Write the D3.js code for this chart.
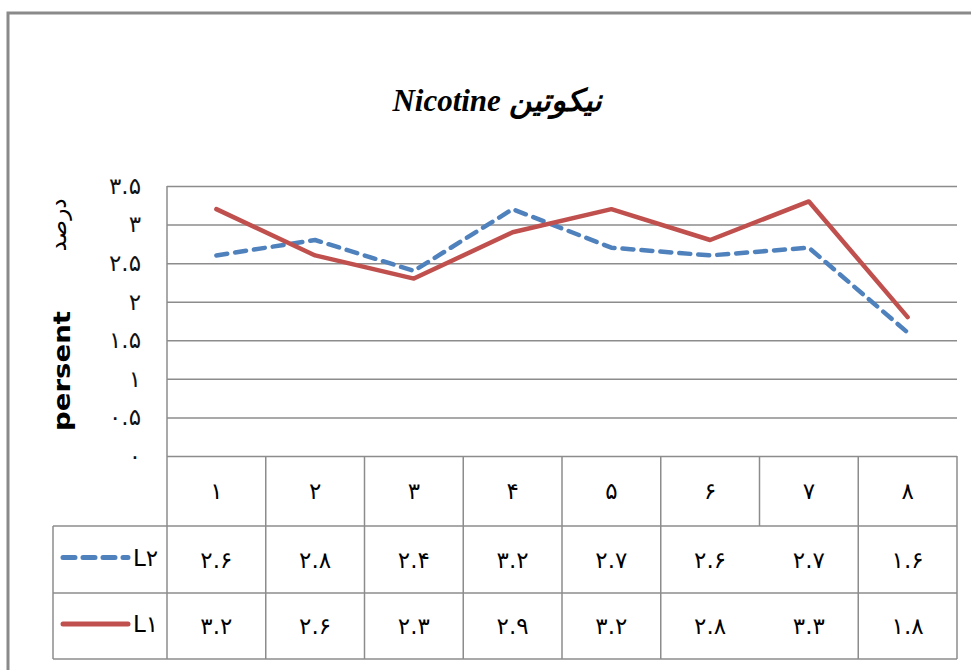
<!DOCTYPE html>
<html>
<head>
<meta charset="utf-8">
<script src="https://cdn.jsdelivr.net/npm/d3@7"></script>
<style>
  body { margin: 0; background: #fff; }
  text { font-family: "DejaVu Sans", sans-serif; }
</style>
</head>
<body>
<div id="chart"></div>
<script>
var categories = ["۱", "۲", "۳", "۴", "۵", "۶", "۷", "۸"];
var L2 = [2.6, 2.8, 2.4, 3.2, 2.7, 2.6, 2.7, 1.6];
var L1 = [3.2, 2.6, 2.3, 2.9, 3.2, 2.8, 3.3, 1.8];
var yTicks = [0, 0.5, 1, 1.5, 2, 2.5, 3, 3.5];
var seriesNames = ["L۲", "L۱"];

// persian digits
function fa(v) {
  return String(v).replace(/\d/g, function (c) { return "۰۱۲۳۴۵۶۷۸۹"[+c]; });
}

var W = 971, H = 670;
var plotLeft = 167, plotRight = 957, plotTop = 186, plotBottom = 456;
var rowY = [456, 526, 593, 659];
var legLeft = 53;
var numSize = "23px";

var svg = d3.select("#chart").append("svg")
    .attr("width", W).attr("height", H);

// outer frame (only top and left visible)
svg.append("path")
    .attr("d", "M8,670 L8,13 L971,13")
    .attr("fill", "none").attr("stroke", "#8a8a8a").attr("stroke-width", 3);

// title
svg.append("text")
    .attr("x", 497).attr("y", 111)
    .attr("text-anchor", "middle")
    .style("font-family", "'Liberation Serif', 'DejaVu Serif', serif")
    .style("font-weight", "bold").style("font-style", "italic")
    .style("font-size", "31px")
    .text("Nicotine نیکوتین");

var x = d3.scaleBand().domain(categories).range([plotLeft, plotRight]).padding(0);
var y = d3.scaleLinear().domain([0, 3.5]).range([plotBottom, plotTop]);

// y axis + gridlines
var yAxis = d3.axisLeft(y).tickValues(yTicks)
    .tickSize(-(plotRight - plotLeft)).tickPadding(26)
    .tickFormat(function (d) { return fa(d); });

var gy = svg.append("g")
    .attr("transform", "translate(" + plotLeft + ",0)")
    .call(yAxis);
gy.select(".domain").attr("stroke", "#8c8c8c").attr("stroke-width", 1.5)
    .attr("d", "M0," + plotTop + "V" + plotBottom);
gy.selectAll(".tick line").attr("stroke", "#8c8c8c").attr("stroke-width", 1.5);
gy.selectAll(".tick text").style("font-size", numSize).attr("fill", "#111")
    .style("font-family", "'DejaVu Sans', sans-serif");

// y label
svg.append("text")
    .attr("transform", "translate(70,371) rotate(-90)")
    .attr("text-anchor", "middle")
    .style("font-weight", "bold").style("font-size", "23px")
    .attr("textLength", 120).attr("lengthAdjust", "spacingAndGlyphs")
    .text("persent");
svg.append("text")
    .attr("transform", "translate(66,225) rotate(-90)")
    .attr("text-anchor", "middle")
    .style("font-size", "23px")
    .text("درصد");

// lines
var line = d3.line()
    .x(function (d, i) { return x(categories[i]) + x.bandwidth() / 2; })
    .y(function (d) { return y(d); });

svg.append("path").datum(L2)
    .attr("d", line).attr("fill", "none")
    .attr("stroke", "#4f81bd").attr("stroke-width", 4.5)
    .attr("stroke-dasharray", "11,8").attr("stroke-linecap", "round")
    .attr("stroke-linejoin", "round");

svg.append("path").datum(L1)
    .attr("d", line).attr("fill", "none")
    .attr("stroke", "#c0504d").attr("stroke-width", 4.5)
    .attr("stroke-linecap", "round").attr("stroke-linejoin", "round");

// data table
var grid = "#8c8c8c";
var tbl = svg.append("g");
// horizontal lines
[1, 2, 3].forEach(function (r) {
  tbl.append("line").attr("x1", legLeft).attr("x2", plotRight).attr("y1", rowY[r]).attr("y2", rowY[r]);
});
// vertical lines
var bounds = categories.map(function (c) { return x(c); }).concat([plotRight]);
bounds.forEach(function (bx, i) {
  var y2 = (i === 6) ? rowY[1] : rowY[3];
  tbl.append("line").attr("x1", bx).attr("x2", bx).attr("y1", rowY[0]).attr("y2", y2);
});
tbl.append("line").attr("x1", legLeft).attr("x2", legLeft).attr("y1", rowY[1]).attr("y2", rowY[3]);
tbl.selectAll("line").attr("stroke", grid).attr("stroke-width", 1.5);

// category labels
tbl.selectAll("text.cat")
    .data(categories)
  .enter().append("text")
    .attr("class", "cat")
    .attr("x", function (d) { return x(d) + x.bandwidth() / 2; })
    .attr("y", (rowY[0] + rowY[1]) / 2)
    .attr("dy", "0.35em")
    .attr("text-anchor", "middle")
    .style("font-size", numSize)
    .text(function (d) { return d; });

// value rows
[L2, L1].forEach(function (vals, r) {
  var cy = (rowY[r + 1] + rowY[r + 2]) / 2;
  tbl.selectAll("text.v" + r)
      .data(vals)
    .enter().append("text")
      .attr("class", "v" + r)
      .attr("x", function (d, i) { return x(categories[i]) + x.bandwidth() / 2; })
      .attr("y", cy)
      .attr("dy", "0.35em")
      .attr("text-anchor", "middle")
      .style("font-size", numSize)
      .text(function (d) { return fa(d.toFixed(1)); });
});

// legend keys
var keyColors = ["#4f81bd", "#c0504d"];
seriesNames.forEach(function (name, r) {
  var cy = (rowY[r + 1] + rowY[r + 2]) / 2 - 2;
  var k = tbl.append("line")
      .attr("x1", 63).attr("x2", 128).attr("y1", cy).attr("y2", cy)
      .attr("stroke", keyColors[r]).attr("stroke-width", 5)
      .attr("stroke-linecap", "round");
  if (r === 0) k.attr("stroke-dasharray", "12,8");
  tbl.append("text")
      .attr("x", 133).attr("y", cy)
      .attr("dy", "0.35em")
      .style("font-size", numSize)
      .text(name);
});
</script>
</body>
</html>
